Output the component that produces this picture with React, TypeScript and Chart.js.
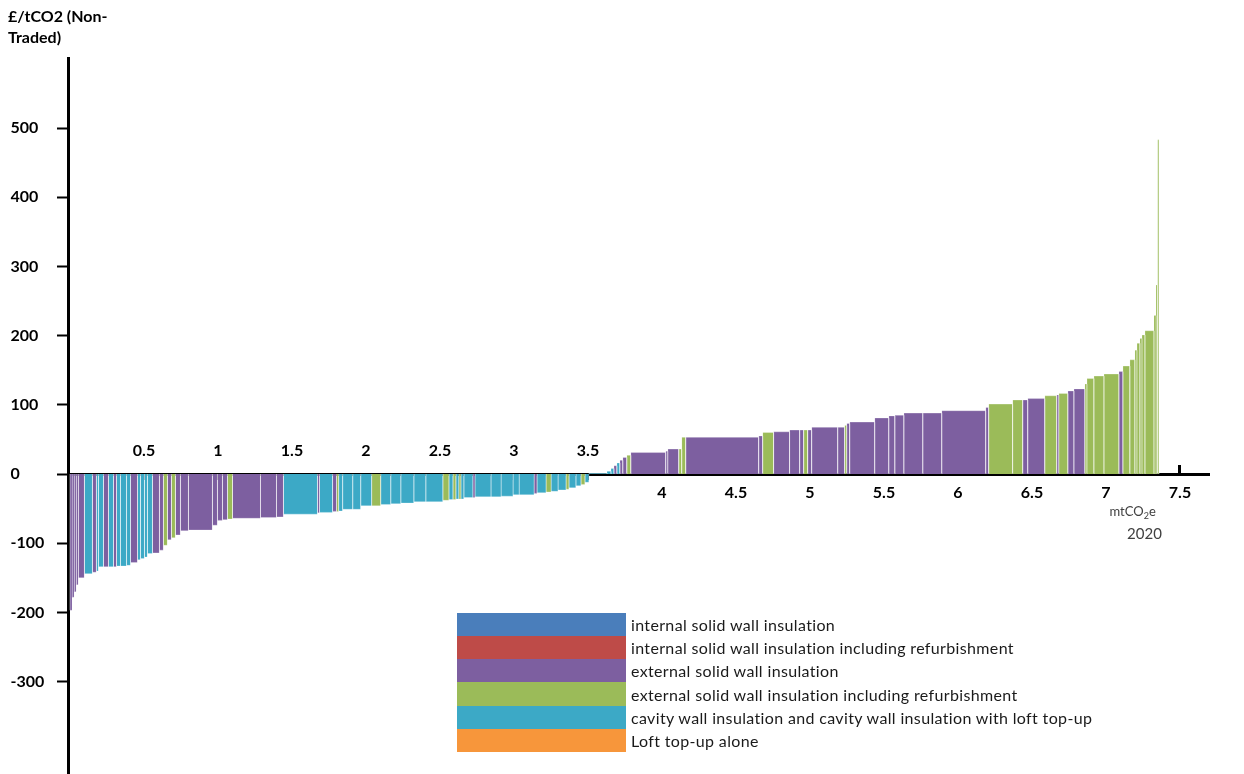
import React, { useEffect, useRef } from 'react';
import { Chart, registerables } from 'chart.js';

Chart.register(...registerables);

// Measures (legend order) and their colours
const measureNames = [
  'internal solid wall insulation',
  'internal solid wall insulation including refurbishment',
  'external solid wall insulation',
  'external solid wall insulation including refurbishment',
  'cavity wall insulation and cavity wall insulation with loft top-up',
  'Loft top-up alone',
];
const measureColors = ['#4A7EBB', '#BE4B48', '#7D5FA0', '#9BBB59', '#3CA9C6', '#F7963B'];

// Bars of the MACC curve, left to right
// abatement (mtCO2e, bar width)
const barWidths = [
  0.014, 0.014, 0.014, 0.014, 0.041, 0.054, 0.027, 0.014, 0.034, 0.034,
  0.034, 0.020, 0.027, 0.041, 0.027, 0.047, 0.020, 0.027, 0.020, 0.034,
  0.047, 0.027, 0.027, 0.027, 0.027, 0.034, 0.054, 0.162, 0.034, 0.034,
  0.034, 0.034, 0.189, 0.108, 0.047, 0.230, 0.014, 0.088, 0.027, 0.014,
  0.027, 0.068, 0.054, 0.074, 0.061, 0.068, 0.068, 0.088, 0.081, 0.115,
  0.041, 0.027, 0.020, 0.020, 0.014, 0.020, 0.061, 0.014, 0.108, 0.068,
  0.081, 0.041, 0.101, 0.020, 0.061, 0.034, 0.047, 0.054, 0.020, 0.047,
  0.034, 0.027, 0.027, 0.122, 0.027, 0.020, 0.020, 0.020, 0.020, 0.027,
  0.027, 0.236, 0.014, 0.074, 0.020, 0.027, 0.493, 0.027, 0.074, 0.108,
  0.068, 0.027, 0.027, 0.027, 0.176, 0.047, 0.014, 0.020, 0.169, 0.095,
  0.041, 0.061, 0.128, 0.128, 0.297, 0.020, 0.162, 0.068, 0.034, 0.115,
  0.081, 0.014, 0.061, 0.041, 0.074, 0.014, 0.047, 0.068, 0.101, 0.027,
  0.047, 0.034, 0.014, 0.020, 0.014, 0.020, 0.061, 0.014, 0.010, 0.010,
];
// cost (£/tCO2, bar height)
const barCosts = [
  -197, -178, -170, -160, -150, -144, -142, -140, -134, -134,
  -134, -134, -133, -133, -132, -128, -124, -122, -120, -115,
  -114, -110, -103, -95, -92, -88, -82, -81, -74, -67,
  -66, -65, -64, -63, -62, -58, -56, -55.5, -54, -54,
  -53.5, -51, -51, -46, -46, -44, -43, -42, -40, -40,
  -38, -37, -37, -36, -36, -36, -34, -34, -33, -33,
  -32, -30, -30, -28, -27, -26, -25, -23, -22, -20,
  -17, -15, -12, 1, 4, 8, 12, 16, 20, 24,
  27, 31, 33, 36, 36, 53, 53, 55, 60, 61,
  63.5, 63.5, 63.5, 63.5, 67.5, 67.5, 70, 73, 75, 81,
  84, 85, 88, 88, 91.5, 96, 101, 107, 107, 109,
  113, 114, 116.5, 120, 123, 130, 138, 141.5, 144.5, 148,
  156, 165, 179, 189, 196, 201, 207, 229, 273, 483,
];
// measure index (into measureNames)
const barMeasures = [
  2, 2, 2, 2, 2, 4, 2, 4, 4, 2,
  4, 2, 4, 4, 4, 2, 4, 4, 4, 4,
  2, 2, 3, 2, 3, 2, 2, 2, 2, 2,
  2, 3, 2, 2, 2, 4, 2, 4, 2, 3,
  4, 4, 4, 4, 3, 4, 4, 4, 4, 4,
  3, 4, 3, 4, 3, 4, 4, 2, 4, 4,
  4, 4, 4, 2, 4, 3, 4, 4, 3, 4,
  4, 3, 4, 4, 4, 4, 2, 4, 2, 2,
  3, 2, 2, 2, 3, 3, 2, 2, 3, 2,
  2, 2, 3, 2, 2, 2, 3, 2, 2, 2,
  2, 2, 2, 2, 2, 2, 3, 3, 2, 2,
  3, 2, 3, 2, 2, 3, 3, 3, 3, 2,
  3, 3, 3, 3, 3, 3, 3, 3, 3, 3,
];

// Axis labels
const upperTickLabels = ['0.5', '1', '1.5', '2', '2.5', '3', '3.5'];
const lowerTickLabels = ['4', '4.5', '5', '5.5', '6', '6.5', '7', '7.5'];
const yTickLabels = ['-300', '-200', '-100', '0', '100', '200', '300', '400', '500'];
const yAxisTitle = ['£/tCO2 (Non-', 'Traded)'];
const xUnitParts = ['mtCO', '2', 'e'];
const yearLabel = '2020';

const FONT = 'Lato, "Open Sans", sans-serif';

const unitPlugin = {
  id: 'unitText',
  afterDraw(chart: any) {
    const { ctx, scales } = chart;
    const xs = scales.x;
    const ys = scales.y;
    ctx.save();
    ctx.fillStyle = '#404040';
    ctx.textBaseline = 'alphabetic';
    ctx.textAlign = 'left';
    ctx.font = `13px ${FONT}`;
    const w1 = ctx.measureText(xUnitParts[0]).width;
    const w3 = ctx.measureText(xUnitParts[2]).width;
    ctx.font = `9px ${FONT}`;
    const w2 = ctx.measureText(xUnitParts[1]).width;
    const total = w1 + w2 + w3;
    const cx = xs.getPixelForValue(7.18);
    const by = ys.getPixelForValue(-61);
    let px = cx - total / 2;
    ctx.font = `13px ${FONT}`;
    ctx.fillText(xUnitParts[0], px, by);
    px += w1;
    ctx.font = `9px ${FONT}`;
    ctx.fillText(xUnitParts[1], px, by + 3);
    px += w2;
    ctx.font = `13px ${FONT}`;
    ctx.fillText(xUnitParts[2], px, by);
    ctx.font = `15px ${FONT}`;
    ctx.textAlign = 'center';
    ctx.fillText(yearLabel, xs.getPixelForValue(7.26), ys.getPixelForValue(-93.5));
    ctx.restore();
  },
};

export default function App() {
  const canvasRef = useRef<HTMLCanvasElement | null>(null);

  useEffect(() => {
    const canvas = canvasRef.current;
    if (!canvas) return;

    let cum = 0;
    const datasets = barWidths.map((w, i) => {
      const x0 = cum;
      const x1 = cum + w;
      cum = x1;
      const c = barCosts[i];
      return {
        label: measureNames[barMeasures[i]],
        data: [
          { x: x0, y: 0 },
          { x: x0, y: c },
          { x: x1, y: c },
          { x: x1, y: 0 },
        ],
        backgroundColor: measureColors[barMeasures[i]],
        borderColor: w < 0.016 ? 'rgba(255,255,255,0.35)' : 'rgba(255,255,255,0.55)',
        borderWidth: 0.5,
        fill: 'origin',
        pointRadius: 0,
        tension: 0,
      };
    });

    const zeroPad = (s: any) => {
      s.paddingLeft = 0;
      s.paddingRight = 0;
      s.paddingTop = 0;
      s.paddingBottom = 0;
    };

    const xMin = -0.0135;
    const xMax = 7.7;

    const chart = new Chart(canvas, {
      type: 'line',
      data: { datasets: datasets as any },
      plugins: [unitPlugin],
      options: {
        animation: false,
        responsive: false,
        maintainAspectRatio: false,
        devicePixelRatio: 1,
        layout: { padding: { left: 10.5, right: 34.4, top: 58.8, bottom: 0 } },
        plugins: {
          legend: { display: false },
          tooltip: { enabled: false },
        },
        events: [],
        scales: {
          x: {
            type: 'linear',
            position: { y: 0 } as any,
            min: xMin,
            max: xMax,
            z: 1,
            border: { display: true, color: '#000', width: 3 },
            grid: {
              display: true,
              drawOnChartArea: false,
              drawTicks: true,
              tickLength: -11,
              tickWidth: 3,
              tickColor: (ctx: any) =>
                ctx.tick && lowerTickLabels.includes(String(ctx.tick.value)) ? '#000' : 'rgba(0,0,0,0)',
            },
            ticks: {
              stepSize: 0.5,
              includeBounds: false,
              autoSkip: false,
              maxRotation: 0,
              padding: 20,
              color: '#000',
              font: { family: FONT, size: 16, weight: 'bold' },
              callback: (v: any) => (lowerTickLabels.includes(String(v)) ? String(v) : null),
            },
            afterFit: zeroPad,
          },
          x2: {
            type: 'linear',
            axis: 'x',
            position: { y: 0 } as any,
            min: xMin,
            max: xMax,
            z: 1,
            border: { display: false },
            grid: {
              display: true,
              drawOnChartArea: false,
              drawTicks: true,
              tickLength: 6,
              tickWidth: 3,
              tickColor: (ctx: any) =>
                ctx.tick && upperTickLabels.includes(String(ctx.tick.value)) ? '#000' : 'rgba(0,0,0,0)',
            },
            ticks: {
              stepSize: 0.5,
              includeBounds: false,
              autoSkip: false,
              maxRotation: 0,
              padding: -38.6,
              color: '#000',
              font: { family: FONT, size: 16, weight: 'bold' },
              callback: (v: any) => (upperTickLabels.includes(String(v)) ? String(v) : null),
            },
            afterFit: zeroPad,
          } as any,
          y: {
            type: 'linear',
            position: 'left',
            min: -433.5,
            max: 600,
            z: 1,
            border: { display: true, color: '#000', width: 3 },
            grid: {
              display: true,
              drawOnChartArea: false,
              drawTicks: true,
              tickLength: 11,
              tickWidth: 2,
              tickColor: (ctx: any) =>
                ctx.tick && yTickLabels.includes(String(ctx.tick.value)) ? '#000' : 'rgba(0,0,0,0)',
            },
            ticks: {
              stepSize: 100,
              includeBounds: false,
              autoSkip: false,
              crossAlign: 'far',
              color: '#000',
              font: { family: FONT, size: 16, weight: 'bold' },
              callback: (v: any) => (yTickLabels.includes(String(v)) ? String(v) : null),
            },
            afterFit: (s: any) => {
              s.width = 57.5;
              zeroPad(s);
            },
          },
        },
      } as any,
    });

    return () => chart.destroy();
  }, []);

  return (
    <div style={{ position: 'absolute', left: 0, top: 0, width: 1244, height: 774, background: '#fff', overflow: 'hidden' }}>
      <canvas ref={canvasRef} width={1244} height={774} style={{ position: 'absolute', left: 0, top: 0 }} />
      <div
        style={{
          position: 'absolute',
          left: 8,
          top: 5,
          fontFamily: FONT,
          fontWeight: 'bold',
          fontSize: 16,
          lineHeight: '21px',
          color: '#000',
        }}
      >
        {yAxisTitle.map((t, i) => (
          <div key={i}>{t}</div>
        ))}
      </div>
      <div style={{ position: 'absolute', left: 457, top: 613 }}>
        {measureNames.map((n, i) => (
          <div key={i} style={{ display: 'flex', alignItems: 'center', height: 23.17 }}>
            <div style={{ width: 169, height: '100%', background: measureColors[i] }} />
            <span
              style={{
                marginLeft: 5,
                fontFamily: FONT,
                fontSize: 16,
                letterSpacing: '0.35px',
                color: '#1a1a1a',
                whiteSpace: 'nowrap',
              }}
            >
              {n}
            </span>
          </div>
        ))}
      </div>
    </div>
  );
}
